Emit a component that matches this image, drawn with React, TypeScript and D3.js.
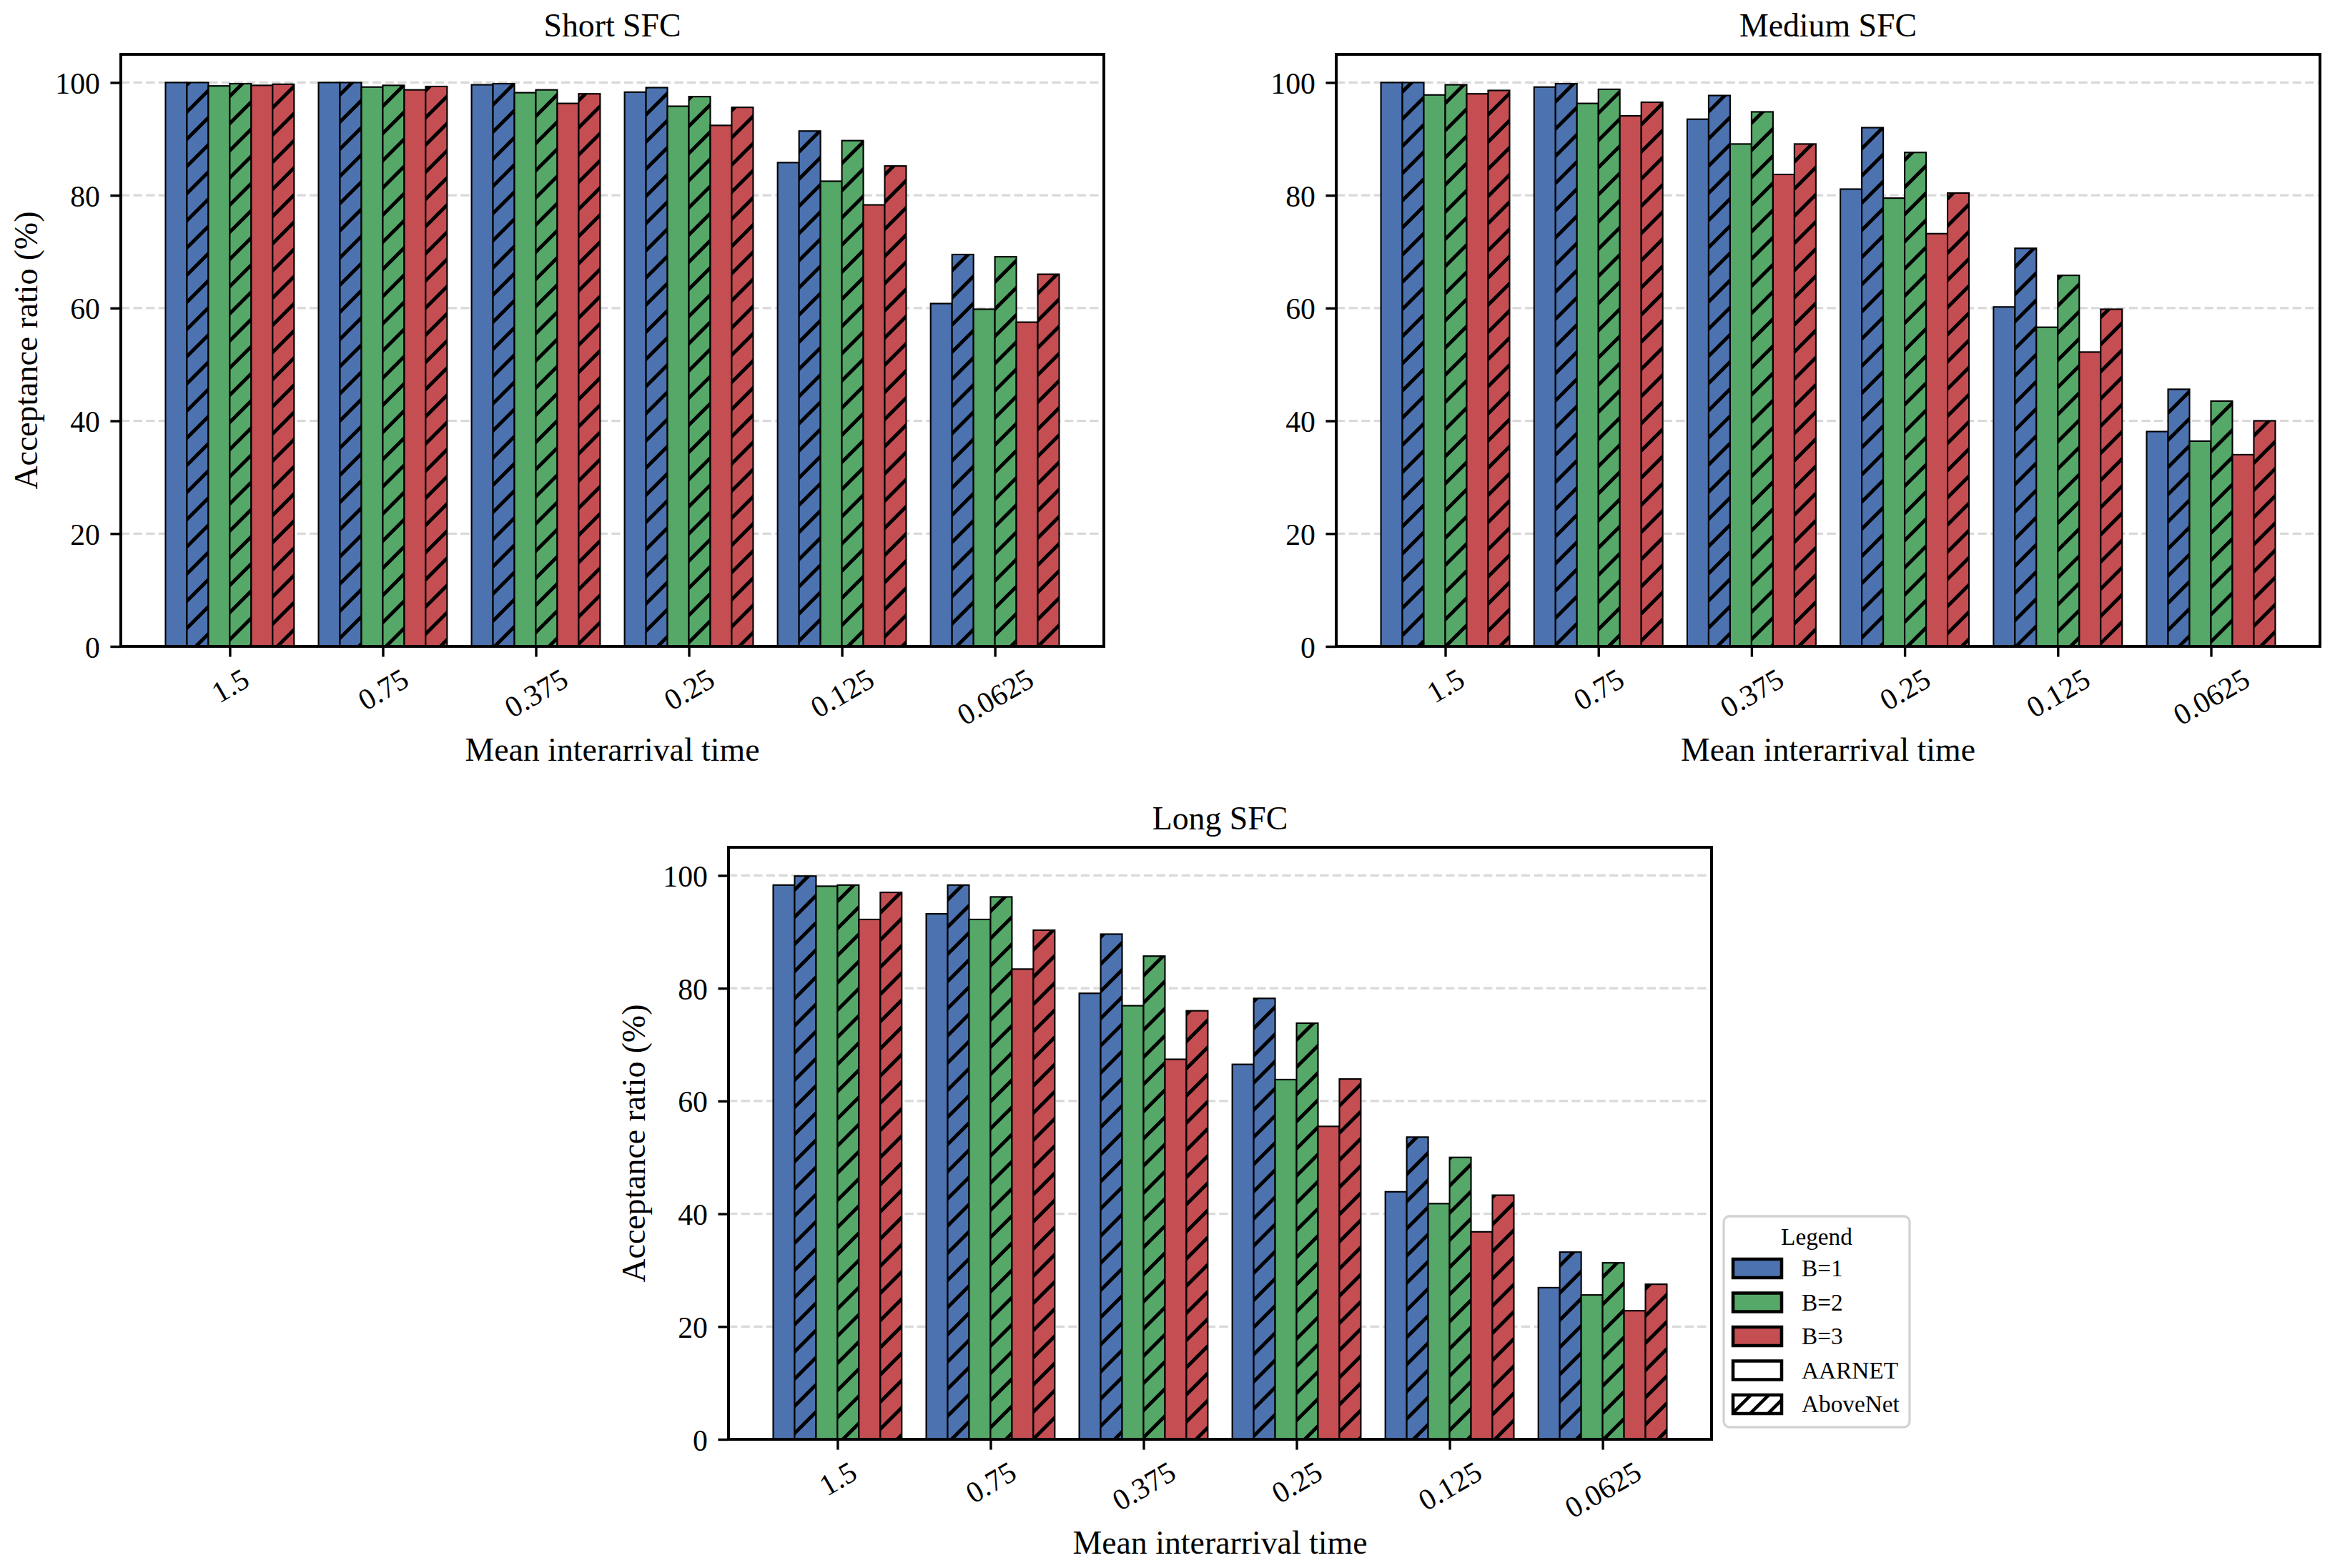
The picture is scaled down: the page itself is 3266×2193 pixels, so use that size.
import { useEffect, useRef } from 'react';
import * as d3 from 'd3';

// x categories (mean interarrival time)
const categories = ['1.5', '0.75', '0.375', '0.25', '0.125', '0.0625'];
const yTicks = [0, 20, 40, 60, 80, 100];

// Short SFC
const shortB1Aarnet = [100, 100, 99.6, 98.3, 85.8, 60.8];
const shortB1Above = [100, 100, 99.8, 99.1, 91.4, 69.5];
const shortB2Aarnet = [99.4, 99.2, 98.2, 95.8, 82.5, 59.8];
const shortB2Above = [99.8, 99.5, 98.7, 97.5, 89.7, 69.1];
const shortB3Aarnet = [99.5, 98.7, 96.3, 92.4, 78.3, 57.5];
const shortB3Above = [99.7, 99.3, 98.0, 95.6, 85.2, 66.0];

// Medium SFC
const mediumB1Aarnet = [100, 99.2, 93.5, 81.1, 60.2, 38.1];
const mediumB1Above = [100, 99.8, 97.7, 92.0, 70.6, 45.6];
const mediumB2Aarnet = [97.8, 96.3, 89.1, 79.5, 56.6, 36.4];
const mediumB2Above = [99.6, 98.8, 94.8, 87.6, 65.8, 43.5];
const mediumB3Aarnet = [98.0, 94.1, 83.7, 73.2, 52.2, 34.0];
const mediumB3Above = [98.6, 96.5, 89.1, 80.4, 59.8, 40.0];

// Long SFC
const longB1Aarnet = [98.3, 93.2, 79.1, 66.5, 43.9, 26.9];
const longB1Above = [99.9, 98.3, 89.6, 78.2, 53.6, 33.2];
const longB2Aarnet = [98.1, 92.2, 76.9, 63.8, 41.8, 25.6];
const longB2Above = [98.3, 96.2, 85.7, 73.8, 50.0, 31.3];
const longB3Aarnet = [92.2, 83.4, 67.4, 55.5, 36.8, 22.8];
const longB3Above = [97.0, 90.3, 76.0, 63.9, 43.3, 27.5];

const colorB1 = '#4C72B0';
const colorB2 = '#55A868';
const colorB3 = '#C44E52';

const legendItems = [
  { label: 'B=1', fill: colorB1, hatch: false },
  { label: 'B=2', fill: colorB2, hatch: false },
  { label: 'B=3', fill: colorB3, hatch: false },
  { label: 'AARNET', fill: '#ffffff', hatch: false },
  { label: 'AboveNet', fill: '#ffffff', hatch: true },
];

const W = 3266;
const H = 2193;
const FONT = '"Liberation Serif", "Times New Roman", serif';
const TICK_FS = 41.7;
const LABEL_FS = 45.8;
const LEGEND_FS = 33.3;
const BAR_W = 0.14;

interface Series {
  values: number[];
  color: string;
  hatched: boolean;
}

interface Panel {
  title: string;
  left: number;
  right: number;
  top: number;
  bottom: number;
  yLabel: boolean;
  series: Series[];
}

function makeSeries(b1a: number[], b1h: number[], b2a: number[], b2h: number[], b3a: number[], b3h: number[]): Series[] {
  return [
    { values: b1a, color: colorB1, hatched: false },
    { values: b1h, color: colorB1, hatched: true },
    { values: b2a, color: colorB2, hatched: false },
    { values: b2h, color: colorB2, hatched: true },
    { values: b3a, color: colorB3, hatched: false },
    { values: b3h, color: colorB3, hatched: true },
  ];
}

const panels: Panel[] = [
  {
    title: 'Short SFC', left: 169, right: 1544, top: 76, bottom: 904, yLabel: true,
    series: makeSeries(shortB1Aarnet, shortB1Above, shortB2Aarnet, shortB2Above, shortB3Aarnet, shortB3Above),
  },
  {
    title: 'Medium SFC', left: 1869, right: 3245, top: 76, bottom: 904, yLabel: false,
    series: makeSeries(mediumB1Aarnet, mediumB1Above, mediumB2Aarnet, mediumB2Above, mediumB3Aarnet, mediumB3Above),
  },
  {
    title: 'Long SFC', left: 1019, right: 2394, top: 1185, bottom: 2013, yLabel: true,
    series: makeSeries(longB1Aarnet, longB1Above, longB2Aarnet, longB2Above, longB3Aarnet, longB3Above),
  },
];

function addHatch(defs: d3.Selection<SVGDefsElement, unknown, null, undefined>, id: string, s: number, lw: number) {
  defs
    .append('pattern')
    .attr('id', id)
    .attr('patternUnits', 'userSpaceOnUse')
    .attr('width', s)
    .attr('height', s)
    .append('path')
    .attr('d', `M0,${s} L${s},0 M${-s / 2},${s / 2} L${s / 2},${-s / 2} M${s / 2},${1.5 * s} L${1.5 * s},${s / 2}`)
    .attr('stroke', '#000')
    .attr('stroke-width', lw)
    .attr('fill', 'none');
}

function drawPanel(svg: d3.Selection<SVGSVGElement, unknown, null, undefined>, p: Panel) {
  const x = d3.scaleLinear().domain([-0.712, 5.712]).range([p.left, p.right]);
  const y = d3.scaleLinear().domain([0, 105]).range([p.bottom, p.top]);
  const g = svg.append('g');

  // grid below bars
  g.selectAll('.grid')
    .data(yTicks.filter((t) => t > 0))
    .enter()
    .append('line')
    .attr('x1', p.left)
    .attr('x2', p.right)
    .attr('y1', (d) => y(d))
    .attr('y2', (d) => y(d))
    .attr('stroke', '#d9d9d9')
    .attr('stroke-width', 3.3)
    .attr('stroke-dasharray', '12.3 5.3');

  const bw = x(BAR_W) - x(0);
  p.series.forEach((s, j) => {
    const bars = g
      .append('g')
      .selectAll('g')
      .data(s.values)
      .enter()
      .append('g');
    const bx = (_: number, i: number) => x(i - 0.42 + j * BAR_W);
    bars
      .append('rect')
      .attr('x', bx)
      .attr('y', (d) => y(d))
      .attr('width', bw)
      .attr('height', (d) => y(0) - y(d))
      .attr('fill', s.color);
    if (s.hatched) {
      bars
        .append('rect')
        .attr('x', bx)
        .attr('y', (d) => y(d))
        .attr('width', bw)
        .attr('height', (d) => y(0) - y(d))
        .attr('fill', 'url(#hatch-bar)');
    }
    bars
      .append('rect')
      .attr('x', bx)
      .attr('y', (d) => y(d))
      .attr('width', bw)
      .attr('height', (d) => y(0) - y(d))
      .attr('fill', 'none')
      .attr('stroke', '#000')
      .attr('stroke-width', 2.1);
  });

  // y axis
  const yAxis = g
    .append('g')
    .attr('transform', `translate(${p.left},0)`)
    .call(d3.axisLeft(y).tickValues(yTicks).tickSize(14.6).tickPadding(14.6).tickFormat(d3.format('d')));
  yAxis.select('.domain').remove();
  yAxis.selectAll('line').attr('stroke', '#000').attr('stroke-width', 3.4);
  yAxis
    .selectAll('text')
    .attr('dy', null)
    .attr('y', 15)
    .attr('fill', '#000')
    .style('font-family', FONT)
    .style('font-size', `${TICK_FS}px`);

  // x axis
  const xAxis = g
    .append('g')
    .attr('transform', `translate(0,${p.bottom})`)
    .call(
      d3
        .axisBottom(x)
        .tickValues(d3.range(categories.length))
        .tickSize(14.6)
        .tickFormat((i) => categories[i as number])
    );
  xAxis.select('.domain').remove();
  xAxis.selectAll('line').attr('stroke', '#000').attr('stroke-width', 3.4);
  xAxis
    .selectAll<SVGTextElement, number>('text')
    .attr('dy', null)
    .attr('x', 0)
    .attr('fill', '#000')
    .style('font-family', FONT)
    .style('font-size', `${TICK_FS}px`)
    .attr('text-anchor', 'middle')
    .each(function () {
      const el = this as SVGTextElement;
      const w = el.getComputedTextLength();
      const hBox = 1.107 * TICK_FS;
      const rotH = w * 0.5 + hBox * 0.866;
      d3.select(el)
        .attr('y', 0.3375 * TICK_FS)
        .attr('transform', `translate(0,${22 + rotH / 2}) rotate(-30)`);
    });

  // spines
  g.append('rect')
    .attr('x', p.left)
    .attr('y', p.top)
    .attr('width', p.right - p.left)
    .attr('height', p.bottom - p.top)
    .attr('fill', 'none')
    .attr('stroke', '#000')
    .attr('stroke-width', 4);

  const cx = (p.left + p.right) / 2;
  g.append('text')
    .attr('x', cx)
    .attr('y', p.top - 25)
    .attr('text-anchor', 'middle')
    .style('font-family', FONT)
    .style('font-size', `${LABEL_FS}px`)
    .text(p.title);

  g.append('text')
    .attr('x', cx)
    .attr('y', p.bottom + 160)
    .attr('text-anchor', 'middle')
    .style('font-family', FONT)
    .style('font-size', `${LABEL_FS}px`)
    .text('Mean interarrival time');

  if (p.yLabel) {
    g.append('text')
      .attr('transform', `translate(${p.left - 117},${(p.top + p.bottom) / 2}) rotate(-90)`)
      .attr('text-anchor', 'middle')
      .style('font-family', FONT)
      .style('font-size', `${LABEL_FS}px`)
      .text('Acceptance ratio (%)');
  }
}

function drawLegend(svg: d3.Selection<SVGSVGElement, unknown, null, undefined>) {
  const lx = 2411;
  const ly = 1701;
  const g = svg.append('g');
  g.append('rect')
    .attr('x', lx)
    .attr('y', ly)
    .attr('width', 260)
    .attr('height', 295)
    .attr('rx', 8)
    .attr('fill', '#fff')
    .attr('stroke', '#d3d3d3')
    .attr('stroke-width', 3.3);
  g.append('text')
    .attr('x', lx + 130)
    .attr('y', ly + 40)
    .attr('text-anchor', 'middle')
    .style('font-family', FONT)
    .style('font-size', `${LEGEND_FS}px`)
    .text('Legend');

  const row = d3.scaleLinear().domain([0, 1]).range([ly + 73, ly + 120.5]);
  const items = g.selectAll('.item').data(legendItems).enter().append('g');
  items
    .append('rect')
    .attr('x', lx + 13)
    .attr('y', (_, i) => row(i) - 13)
    .attr('width', 68)
    .attr('height', 26)
    .attr('fill', (d) => d.fill);
  items
    .filter((d) => d.hatch)
    .append('rect')
    .attr('x', lx + 13)
    .attr('y', () => row(4) - 13)
    .attr('width', 68)
    .attr('height', 26)
    .attr('fill', 'url(#hatch-legend)');
  items
    .append('rect')
    .attr('x', lx + 13)
    .attr('y', (_, i) => row(i) - 13)
    .attr('width', 68)
    .attr('height', 26)
    .attr('fill', 'none')
    .attr('stroke', '#000')
    .attr('stroke-width', 4.5);
  items
    .append('text')
    .attr('x', lx + 109)
    .attr('y', (_, i) => row(i) + 11)
    .style('font-family', FONT)
    .style('font-size', `${LEGEND_FS}px`)
    .text((d) => d.label);
}

export default function App() {
  const svgRef = useRef<SVGSVGElement>(null);

  useEffect(() => {
    if (!svgRef.current) return;
    document.body.style.margin = '0';
    const svg = d3.select(svgRef.current);
    svg.selectAll('*').remove();
    const defs = svg.append('defs');
    addHatch(defs, 'hatch-bar', 38, 5);
    addHatch(defs, 'hatch-legend', 25, 4.5);
    panels.forEach((p) => drawPanel(svg, p));
    drawLegend(svg);
  }, []);

  return <svg ref={svgRef} width={W} height={H} style={{ display: 'block', background: '#fff' }} />;
}
